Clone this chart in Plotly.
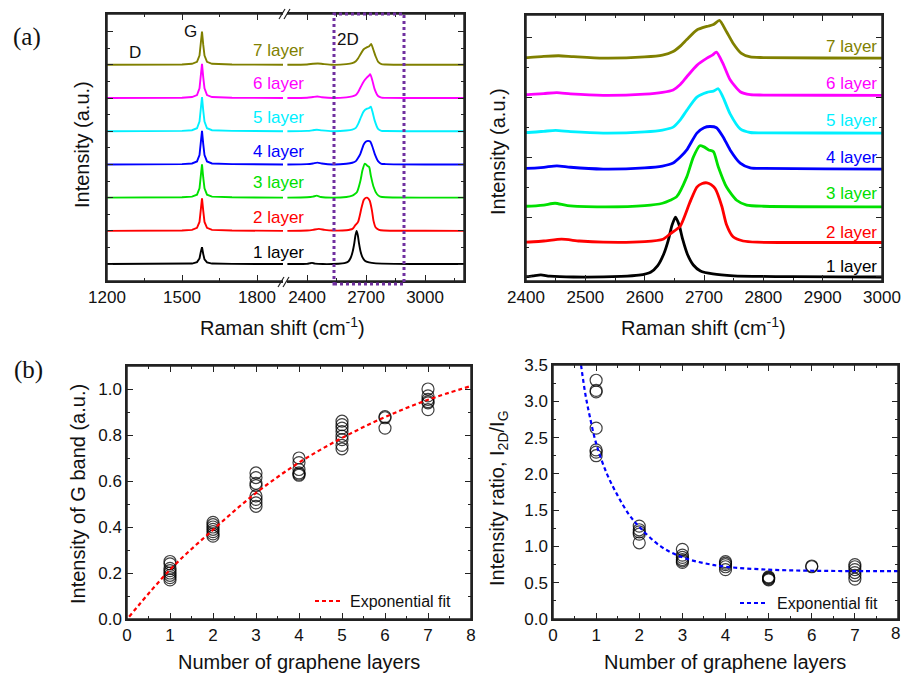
import plotly.graph_objects as go

W, H = 902, 673

# ---------------- data ----------------
LAYER_LABELS = ["1 layer", "2 layer", "3 layer", "4 layer", "5 layer", "6 layer", "7 layer"]
COLORS = ["#000000", "#ff0000", "#00e000", "#0000ff", "#00f0ff", "#ff00ff", "#808000"]

# vertical stacking offsets (a.u.) in the two Raman panels
OFFSET_FULL = [0, 1, 2, 3, 4, 5, 6]
OFFSET_ZOOM = [0, 0.57, 1.17, 1.8, 2.4, 3.03, 3.65]

# G band region (cm-1) and normalised intensities per layer
G_X = [1200, 1350, 1500, 1540, 1560, 1570, 1575, 1580, 1585, 1590, 1600, 1620, 1700, 1904]
G_Y = [
    [0, 0, 0.005, 0.015, 0.06, 0.17, 0.36, 0.51, 0.3, 0.14, 0.05, 0.015, 0.005, 0],
    [0, 0, 0.01, 0.03, 0.09, 0.27, 0.59, 0.98, 0.6, 0.27, 0.09, 0.03, 0.01, 0],
    [0, 0, 0.01, 0.03, 0.09, 0.28, 0.6, 1.0, 0.6, 0.28, 0.09, 0.03, 0.01, 0],
    [0, 0, 0.01, 0.03, 0.09, 0.28, 0.61, 1.01, 0.61, 0.28, 0.09, 0.03, 0.01, 0],
    [0, 0, 0.01, 0.03, 0.09, 0.29, 0.62, 1.03, 0.62, 0.29, 0.09, 0.03, 0.01, 0],
    [0, 0, 0.01, 0.03, 0.09, 0.29, 0.62, 1.03, 0.62, 0.29, 0.09, 0.03, 0.01, 0],
    [0, 0, 0.01, 0.03, 0.09, 0.28, 0.6, 1.0, 0.6, 0.28, 0.09, 0.03, 0.01, 0],
]

# 2D band region (cm-1) and normalised intensities per layer
D2_X = [
    [2300, 2400, 2412, 2425, 2440, 2480, 2560, 2590, 2610, 2622, 2632, 2640, 2646, 2652, 2658, 2664, 2672, 2682, 2694, 2715, 2750, 2850, 3000, 3200],
    [2300, 2400, 2430, 2460, 2490, 2530, 2600, 2631, 2643, 2660, 2676, 2688, 2697, 2705, 2712, 2719, 2730, 2738, 2749, 2766, 2790, 2850, 3000, 3200],
    [2300, 2400, 2430, 2449, 2470, 2530, 2600, 2630, 2643, 2654, 2671, 2682, 2693, 2700, 2708, 2716, 2724, 2738, 2755, 2772, 2800, 3000, 3200],
    [2300, 2400, 2430, 2452, 2475, 2530, 2600, 2630, 2648, 2660, 2671, 2688, 2700, 2710, 2721, 2732, 2744, 2761, 2778, 2800, 3000, 3200],
    [2300, 2400, 2430, 2450, 2475, 2530, 2600, 2630, 2648, 2660, 2671, 2688, 2705, 2716, 2724, 2732, 2744, 2761, 2778, 2800, 3000, 3200],
    [2300, 2400, 2430, 2452, 2475, 2530, 2600, 2630, 2648, 2660, 2671, 2688, 2705, 2714, 2721, 2732, 2744, 2761, 2778, 2800, 3000, 3200],
    [2300, 2400, 2430, 2455, 2480, 2530, 2600, 2630, 2648, 2660, 2671, 2688, 2705, 2716, 2726, 2738, 2749, 2763, 2778, 2800, 3000, 3200],
]
D2_Y = [
    [0, 0.005, 0.02, 0.035, 0.015, 0.0, 0.01, 0.03, 0.08, 0.19, 0.38, 0.62, 0.86, 1.0, 0.87, 0.63, 0.38, 0.2, 0.1, 0.05, 0.02, 0.005, 0.0, 0.0],
    [0, 0.01, 0.03, 0.06, 0.03, 0.01, 0.02, 0.06, 0.15, 0.28, 0.67, 0.93, 0.99, 1.0, 0.97, 0.9, 0.61, 0.3, 0.1, 0.03, 0.01, 0.005, 0.005, 0],
    [0, 0.01, 0.03, 0.06, 0.02, 0.0, 0.02, 0.06, 0.11, 0.17, 0.5, 0.83, 1.02, 1.0, 0.95, 0.92, 0.67, 0.33, 0.11, 0.03, 0.01, 0.0, 0],
    [0, 0.01, 0.03, 0.055, 0.03, 0.0, 0.02, 0.05, 0.1, 0.2, 0.32, 0.6, 0.69, 0.71, 0.69, 0.54, 0.32, 0.1, 0.02, 0.01, 0, 0],
    [0, 0.01, 0.03, 0.045, 0.025, 0.0, 0.02, 0.05, 0.1, 0.22, 0.38, 0.6, 0.68, 0.7, 0.74, 0.6, 0.32, 0.07, 0.01, 0.005, 0, 0],
    [0, 0.01, 0.03, 0.045, 0.025, 0.0, 0.02, 0.05, 0.09, 0.18, 0.31, 0.5, 0.62, 0.67, 0.72, 0.53, 0.26, 0.06, 0.01, 0.005, 0, 0],
    [0, 0.01, 0.03, 0.04, 0.025, 0.0, 0.02, 0.05, 0.11, 0.2, 0.31, 0.47, 0.53, 0.56, 0.63, 0.44, 0.25, 0.08, 0.02, 0.01, 0, 0],
]

# (b) G-band intensity vs layers
GINT_X = [1] * 8 + [2] * 7 + [3] * 8 + [4] * 6 + [5] * 8 + [6] * 3 + [7] * 6
GINT_Y = [0.25, 0.24, 0.22, 0.21, 0.20, 0.19, 0.18, 0.17,
          0.42, 0.41, 0.40, 0.39, 0.38, 0.37, 0.36,
          0.635, 0.615, 0.59, 0.58, 0.535, 0.52, 0.505, 0.49,
          0.70, 0.68, 0.65, 0.635, 0.625, 0.63,
          0.86, 0.845, 0.83, 0.815, 0.795, 0.78, 0.755, 0.74,
          0.88, 0.875, 0.83,
          1.0, 0.97, 0.955, 0.945, 0.94, 0.91]
GFIT_X = [0.05, 1, 2, 3, 4, 5, 6, 7, 8]
GFIT_Y = [0.01, 0.214, 0.388, 0.548, 0.68, 0.787, 0.878, 0.953, 1.013]

# (b) I2D/IG ratio vs layers
RATIO_X = [1] * 7 + [2] * 5 + [3] * 6 + [4] * 5 + [5] * 5 + [6] * 2 + [7] * 6
RATIO_Y = [3.29, 3.15, 3.13, 2.63, 2.33, 2.30, 2.25,
           1.28, 1.23, 1.20, 1.17, 1.05,
           0.96, 0.88, 0.85, 0.82, 0.80, 0.78,
           0.79, 0.77, 0.75, 0.72, 0.68,
           0.58, 0.57, 0.56, 0.55, 0.54,
           0.73, 0.72,
           0.75, 0.72, 0.68, 0.64, 0.60, 0.55]
RFIT_X = [0.65, 0.75, 0.85, 1.0, 1.25, 1.5, 1.75, 2, 2.5, 3, 3.5, 4, 5, 6, 7, 8]
RFIT_Y = [3.5, 3.1, 2.8, 2.42, 2.0, 1.7, 1.45, 1.27, 1.0, 0.85, 0.77, 0.72, 0.68, 0.665, 0.66, 0.66]

FULL_TICKS_LEFT = [1200, 1500, 1800]
FULL_TICKS_RIGHT = [2400, 2700, 3000]
LAYER_TICKS = [0, 1, 2, 3, 4, 5, 6, 7]


# ---------------- helpers ----------------
def px(x):
    return x / W


def py(y):
    return 1 - y / H


FONT = "Liberation Sans"
AX_COL = "#222222"


def minor(dtick, tick0=0):
    return dict(ticks="inside", ticklen=3, tickwidth=1, tickcolor=AX_COL, showgrid=False,
                dtick=dtick, tick0=tick0)


def axis(**kw):
    base = dict(showline=True, linecolor=AX_COL, linewidth=1.5, ticks="inside", ticklen=6,
                tickwidth=1.2, tickcolor=AX_COL, mirror="ticks", showgrid=False, zeroline=False,
                automargin=False,
                tickfont=dict(family=FONT, size=17, color="#111111"))
    base.update(kw)
    return base


fig = go.Figure()

# (a) left: full spectra with broken axis
for i in range(7):
    fig.add_trace(go.Scatter(x=G_X, y=[v + OFFSET_FULL[i] for v in G_Y[i]], mode="lines",
                             line=dict(color=COLORS[i], width=1.9), xaxis="x", yaxis="y",
                             showlegend=False, hoverinfo="skip"))
    fig.add_trace(go.Scatter(x=D2_X[i], y=[v + OFFSET_FULL[i] for v in D2_Y[i]], mode="lines",
                             line=dict(color=COLORS[i], width=1.9, shape="spline", smoothing=0.6),
                             xaxis="x2", yaxis="y", showlegend=False, hoverinfo="skip"))
fig.add_trace(go.Scatter(x=[2500], y=[0], mode="markers", marker=dict(opacity=0),
                         xaxis="x2", yaxis="y5", showlegend=False, hoverinfo="skip"))

# (a) right: 2D band zoom
for i in range(7):
    fig.add_trace(go.Scatter(x=D2_X[i], y=[v + OFFSET_ZOOM[i] for v in D2_Y[i]], mode="lines",
                             line=dict(color=COLORS[i], width=2.8, shape="spline", smoothing=0.6),
                             xaxis="x3", yaxis="y2", showlegend=False, hoverinfo="skip"))

# (b) left
fig.add_trace(go.Scatter(x=GINT_X, y=GINT_Y, mode="markers",
                         marker=dict(symbol="circle-open", size=12, color="rgba(0,0,0,0.75)",
                                     line=dict(width=1.2)),
                         xaxis="x4", yaxis="y3", showlegend=False, hoverinfo="skip"))
fig.add_trace(go.Scatter(x=GFIT_X, y=GFIT_Y, mode="lines",
                         line=dict(color="#ff0000", width=2.2, dash="4px,3px", shape="spline"),
                         xaxis="x4", yaxis="y3", showlegend=False, hoverinfo="skip"))

# (b) right
fig.add_trace(go.Scatter(x=RATIO_X, y=RATIO_Y, mode="markers",
                         marker=dict(symbol="circle-open", size=12, color="rgba(0,0,0,0.75)",
                                     line=dict(width=1.2)),
                         xaxis="x5", yaxis="y4", showlegend=False, hoverinfo="skip"))
fig.add_trace(go.Scatter(x=RFIT_X, y=RFIT_Y, mode="lines",
                         line=dict(color="#0000ff", width=2.2, dash="4px,3px", shape="spline"),
                         xaxis="x5", yaxis="y4", showlegend=False, hoverinfo="skip"))

layout = dict(
    width=W, height=H, autosize=False, margin=dict(l=0, r=0, t=0, b=0, pad=0),
    paper_bgcolor="white", plot_bgcolor="rgba(0,0,0,0)",
    font=dict(family=FONT, color="#111111"),
    xaxis=axis(domain=[px(107), px(283)], range=[1200, 1904], tickvals=FULL_TICKS_LEFT,
               anchor="y", minor=minor(150, 1200)),
    xaxis2=axis(domain=[px(287), px(464)], range=[2298, 3198], tickvals=FULL_TICKS_RIGHT,
                anchor="y", minor=minor(150, 2400)),
    yaxis=axis(domain=[py(281), py(14)], range=[-0.51, 7.53], showticklabels=False, dtick=1, tick0=0,
               anchor="x", mirror=False, minor=minor(0.5)),
    yaxis5=axis(domain=[py(281), py(14)], range=[-0.51, 7.53], showticklabels=False, dtick=1, tick0=0,
                anchor="x2", overlaying="y", side="right", mirror=False, minor=minor(0.5)),
    xaxis3=axis(domain=[px(526), px(882)], range=[2400, 3000], dtick=100, tick0=2400, anchor="y2",
                minor=minor(50)),
    yaxis2=axis(domain=[py(281), py(15)], range=[-0.067, 4.37], showticklabels=False, dtick=1, tick0=0,
                anchor="x3", minor=minor(0.5)),
    xaxis4=axis(domain=[px(127), px(471)], range=[0, 8], dtick=1, tick0=0, anchor="y3",
                minor=minor(0.5)),
    yaxis3=axis(domain=[py(619), py(366)], range=[0, 1.1], dtick=0.2, tick0=0, tickformat=".1f",
                anchor="x4", minor=minor(0.1)),
    xaxis5=axis(domain=[px(553), px(898)], range=[0, 8], tickvals=LAYER_TICKS + [8],
                ticktext=[str(t) for t in LAYER_TICKS] + [""], anchor="y4",
                minor=minor(0.5)),
    yaxis4=axis(domain=[py(619), py(365)], range=[0, 3.5], dtick=0.5, tick0=0, tickformat=".1f",
                anchor="x5", minor=minor(0.25)),
)
fig.update_layout(**layout)

ann = []


def text(x, y, s, size=17, color="#111111", xanchor="center", yanchor="middle", angle=0, family=FONT):
    ann.append(dict(x=px(x), y=py(y), xref="paper", yref="paper", text=s, showarrow=False,
                    xanchor=xanchor, yanchor=yanchor, textangle=angle,
                    font=dict(family=family, size=size, color=color)))


# panel letters
text(27, 37, "(a)", size=25, family="Liberation Serif")
text(28, 370, "(b)", size=25, family="Liberation Serif")

# left spectra labels
text(135, 53, "D")
text(190, 31, "G")
text(348, 39, "2D")
LEFT_LABEL_Y = [252, 218, 183, 151, 117, 83, 51]
RIGHT_LABEL_Y = [267, 232, 193, 157, 120, 83, 47]
for i in range(7):
    text(306, LEFT_LABEL_Y[i], LAYER_LABELS[i], color=COLORS[i], xanchor="right")
    text(879, RIGHT_LABEL_Y[i], LAYER_LABELS[i], color=COLORS[i], xanchor="right")

# last tick label of the ratio panel (sits on the figure edge)
text(902, 633, "8", xanchor="right")

# axis titles
text(282, 326, "Raman shift (cm<sup>-1</sup>)", size=20)
text(703, 326, "Raman shift (cm<sup>-1</sup>)", size=20)
text(82, 145, "Intensity (a.u.)", size=20, angle=-90)
text(498, 152, "Intensity (a.u.)", size=20, angle=-90)
text(299, 662, "Number of graphene layers", size=20)
text(725, 662, "Number of graphene layers", size=20)
text(78, 494, "Intensity of G band (a.u.)", size=20, angle=-90)
text(498, 498, "Intensity ratio, I<sub>2D</sub>/I<sub>G</sub>", size=20, angle=-90)

# legends
text(348, 601, "Exponential fit", size=16, xanchor="left")
text(775, 603, "Exponential fit", size=16, xanchor="left")


def seg(x0, y0, x1, y1, color=AX_COL, width=1.5, dash="solid"):
    return dict(type="line", xref="paper", yref="paper", x0=px(x0), y0=py(y0), x1=px(x1), y1=py(y1),
                line=dict(color=color, width=width, dash=dash), opacity=1, layer="above")


shapes = [
    seg(315, 601, 342, 601, "#ff0000", 2.2, "4px,3px"),
    seg(740, 603, 767, 603, "#0000ff", 2.2, "4px,3px"),
]
# panel frames
shapes += [
    seg(107, 14, 107, 281), seg(464, 14, 464, 281),
    seg(107, 14, 283, 14), seg(287, 14, 464, 14),
    seg(107, 281, 283, 281), seg(287, 281, 464, 281),
]
for (l, t, r, b) in [(526, 15, 882, 281), (127, 366, 471, 619), (553, 365, 898, 619)]:
    shapes.append(dict(type="rect", xref="paper", yref="paper", x0=px(l), x1=px(r), y0=py(b), y1=py(t),
                       line=dict(color=AX_COL, width=1.5), fillcolor="rgba(0,0,0,0)", opacity=1,
                       layer="above"))
# axis break marks
for (x0, y0) in [(279, 19), (284, 19), (278, 287), (283, 287)]:
    shapes.append(seg(x0, y0, x0 + 6, y0 - 10, AX_COL, 1.2))
# dotted box around 2D band
shapes.append(dict(type="rect", xref="paper", yref="paper", x0=px(334), x1=px(404), y0=py(284), y1=py(14),
                   line=dict(color="#7030a0", width=3, dash="dot"), fillcolor="rgba(0,0,0,0)", opacity=1,
                   layer="above"))

fig.update_layout(annotations=ann, shapes=shapes)
fig.write_html("out.html", config={"responsive": False})
